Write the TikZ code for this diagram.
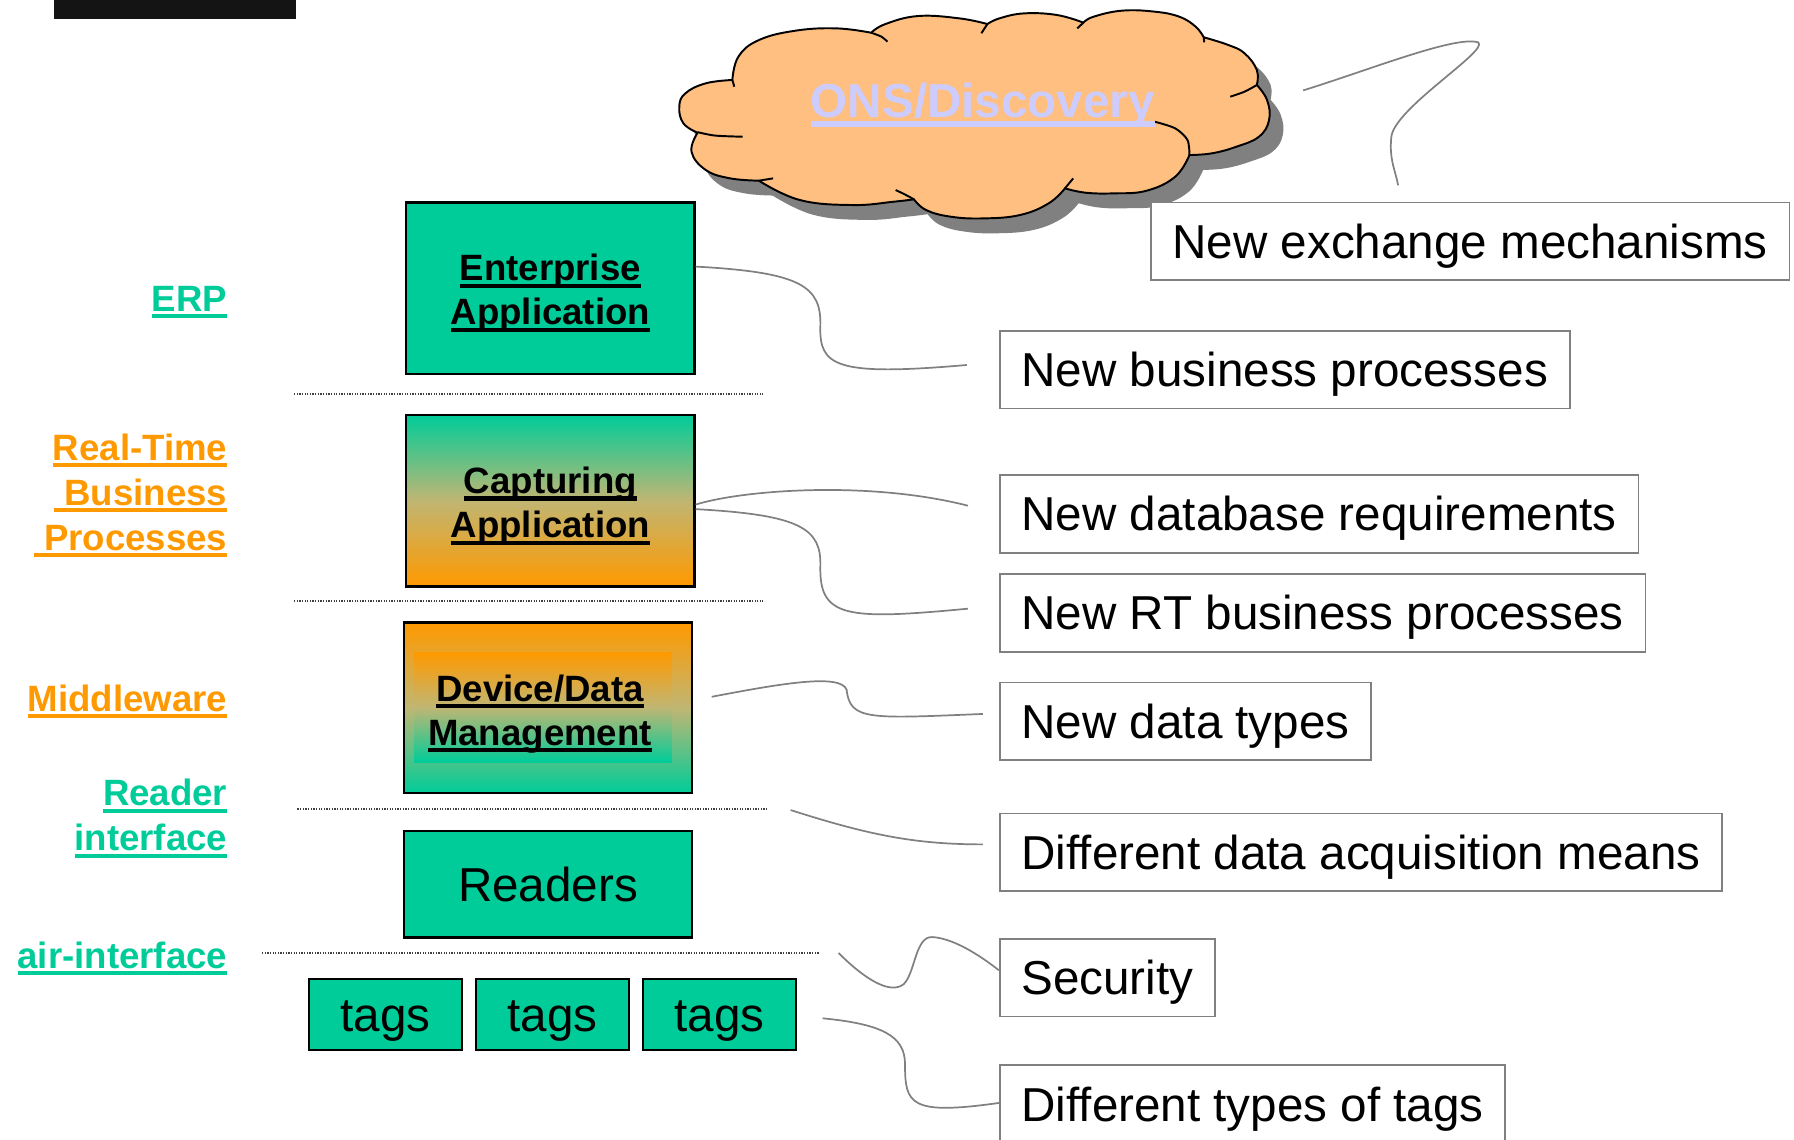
\documentclass[tikz,border=0pt]{standalone}
\usepackage{fontspec}
\setmainfont{Liberation Sans}
\definecolor{mygreen}{HTML}{00CC99}
\definecolor{myorange}{HTML}{FF9900}
\definecolor{mytan}{RGB}{192,182,115}
\definecolor{mylav}{HTML}{CCCCFF}
\definecolor{cloudfill}{HTML}{FFBF80}
\definecolor{linegray}{HTML}{808080}
\definecolor{shadowgray}{HTML}{808080}
\newcommand\myul[1]{\leavevmode\setbox0=\hbox{#1}\rlap{\rule[-0.19em]{\wd0}{0.115em}}\box0}
\def\cloudpath{plot[smooth, tension=0.7] coordinates {(640.1,69.9) (616.9,72.8) (599,81.6) (593.7,93.2) (597.3,107.8) (609.7,116)}
 -- plot[smooth, tension=0.7] coordinates {(609.7,116) (604.4,132.6) (616.9,148.6) (638.3,155.9) (663.3,157.9)}
 -- plot[smooth, tension=0.7] coordinates {(663.3,157.9) (699,174.8) (745.3,179.2) (781,176.3) (798.8,174.2)}
 -- plot[smooth, tension=0.7] coordinates {(798.8,174.2) (809.5,183.6) (831,189.4) (859.5,190.9) (891.6,187.9) (916.6,177.7) (930.8,164.6)}
 -- plot[smooth, tension=0.7] coordinates {(930.8,164.6) (948.7,168.4) (973.6,169) (1002.1,166.7) (1027.2,154.4) (1039.6,135.5)}
 -- plot[smooth, tension=0.7] coordinates {(1039.6,135.5) (1059.3,134) (1080.7,128.2) (1100.3,119.5) (1109.2,104.9) (1107.4,87.4) (1098.5,74.3)}
 -- plot[smooth, tension=0.7] coordinates {(1098.5,74.3) (1098.5,61.2) (1087.8,46.6) (1073.5,39.3) (1052.1,32.6)}
 -- plot[smooth, tension=0.7] coordinates {(1052.1,32.6) (1045,23.3) (1030.7,14.6) (1009.3,10.2) (980.8,9.3) (955.8,14.6) (946.9,19.8)}
 -- plot[smooth, tension=0.7] coordinates {(946.9,19.8) (923.7,13.1) (895.1,11.7) (873.7,16) (863,21)}
 -- plot[smooth, tension=0.7] coordinates {(863,21) (838.1,16) (802.4,14) (773.9,21) (761.4,28.6)}
 -- plot[smooth, tension=0.7] coordinates {(761.4,28.6) (731,24.8) (695.4,26.8) (663.3,35) (645.4,49.5) (640.1,69.9)}
 -- cycle}
\tikzset{
  layerbox/.style={draw=black, line width=1pt, fill=mygreen, inner sep=0pt},
  boxtext/.style={align=center, inner sep=0pt, font=\bfseries\fontsize{16}{19.25}\selectfont},
  plainbox/.style={draw=black, line width=1pt, fill=mygreen, inner sep=0pt,
    font=\fontsize{20.8}{25}\selectfont, text height=14.9pt, text depth=0pt},
  lbl/.style={font=\bfseries\fontsize{16}{19.7}\selectfont, align=right, anchor=east, inner sep=0pt},
  onelbl/.style={lbl, text height=11.46pt, text depth=0pt},
  note/.style={draw=linegray, line width=0.8pt, fill=white,
    font=\fontsize{20.8}{25}\selectfont, inner xsep=9.5pt, inner ysep=0pt,
    text height=14.9pt, text depth=0pt, minimum height=34pt, anchor=west},
  conn/.style={draw=linegray, line width=0.75pt},
  stub/.style={draw=black, line width=0.85pt},
  sepline/.style={draw=black!75, line width=0.8pt, dash pattern=on 0.55pt off 0.6pt},
}
\begin{document}
\begin{tikzpicture}[x=0.5pt, y=-0.5pt]
\useasboundingbox (0,0) rectangle (1568,996);
% top black bar
\fill[black!92] (47,0) rectangle (259,17);
% cloud
\fill[shadowgray, shift={(12,13)}] \cloudpath;
\filldraw[fill=cloudfill, draw=black, line width=0.85pt, line join=round] \cloudpath;
\draw[stub] plot[smooth] coordinates {(609.7,115.5) (625,118.5) (649,119.5)};
\draw[stub] plot[smooth] coordinates {(663.3,157.9) (675.7,155.9)};
\draw[stub] plot[smooth] coordinates {(798.8,174.2) (790,169.5) (782.8,166.1)};
\draw[stub] plot[smooth] coordinates {(930.8,164.6) (938,155.9)};
\draw[stub] plot[smooth] coordinates {(1039.6,135.5) (1037.9,122.4) (1027.2,112.2) (1009.3,106.4)};
\draw[stub] plot[smooth] coordinates {(1098.5,74.3) (1087.8,80.1) (1075.3,84.5)};
\draw[stub] plot[smooth] coordinates {(1052.1,32.6) (1052.5,37)};
\draw[stub] plot[smooth] coordinates {(946.9,19.8) (941.5,24.8)};
\draw[stub] plot[smooth] coordinates {(863,21) (857.7,29.1)};
\draw[stub] plot[smooth] coordinates {(761.4,28.6) (770.3,32) (775.6,36.4)};
\draw[stub] plot[smooth] coordinates {(640.1,69.9) (641.8,75.8)};
\node (ons) [text=mylav, font=\bfseries\fontsize{20.8}{25}\selectfont, inner sep=0pt,
  text height=14.9pt, text depth=0pt] at (859,88) {\myul{ONS/Discovery}};
% layer boxes
\node (ent) [layerbox, minimum width=126pt, minimum height=75pt] at (481,252) {};
\node (enttext) [boxtext] at (481,256.5) {\myul{Enterprise}\\\myul{Application}};
\node (cap) [layerbox, minimum width=126pt, minimum height=75pt, top color=mygreen, bottom color=myorange, middle color=mytan] at (481,437.5) {};
\node (captext) [boxtext] at (481,442.5) {\myul{Capturing}\\\myul{Application}};
\node (devbox) [layerbox, minimum width=126pt, minimum height=74.5pt, top color=myorange, bottom color=mygreen, middle color=mytan] at (479,618.5) {};
\node (devinner) [layerbox, draw=none, top color=myorange, bottom color=mygreen, middle color=mytan,
  minimum width=112.5pt, minimum height=48pt] at (474.5,618) {};
\node (devtext) [boxtext] at (472,624) {\myul{Device/Data}\\\myul{Management}};
\node (readers) [plainbox, minimum width=126pt, minimum height=46.5pt] at (479,773) {Readers};
\node (tag1) [plainbox, minimum width=67pt, minimum height=31pt] at (337,886.5) {tags};
\node (tag2) [plainbox, minimum width=67pt, minimum height=31pt] at (483,886.5) {tags};
\node (tag3) [plainbox, minimum width=67pt, minimum height=31pt] at (629,886.5) {tags};
% separators
\draw[sepline] (257,344) -- (667,344);
\draw[sepline] (257,525) -- (667,525);
\draw[sepline] (260,707) -- (670,707);
\draw[sepline] (229,833) -- (716,833);
% left labels
\node (erp) [onelbl, text=mygreen] at (199,260.7) {\myul{ERP}};
\node (rtbp) [lbl, text=myorange] at (199,433) {\myul{Real-Time}\\\myul{\ Business}\\\myul{\ Processes}};
\node (mw) [onelbl, text=myorange] at (199,610.4) {\myul{Middleware}};
\node (ri) [lbl, text=mygreen] at (199,715.5) {\myul{Reader}\\\myul{interface}};
\node (ai) [onelbl, text=mygreen] at (199,835) {\myul{air-interface}};
% notes
\node (n1) [note] at (1005,211) {New exchange mechanisms};
\node (n2) [note] at (873,323) {New business processes};
\node (n3) [note] at (873,449) {New database requirements};
\node (n4) [note] at (873,535.5) {New RT business processes};
\node (n5) [note] at (873,630.5) {New data types};
\node (n6) [note] at (873,745) {Different data acquisition means};
\node (n7) [note] at (873,854.5) {Security};
\node (n8) [note] at (873,965) {Different types of tags};
% connector end points
\coordinate (c1a) at (1139,79);
\coordinate (c1b) at (1222,162);
\coordinate (c2a) at (ent.east |- 0,233);
\coordinate (c2b) at (845,319);
\coordinate (c3a) at (cap.east |- 0,441);
\coordinate (c3b) at (846,442);
\coordinate (c4a) at (cap.east |- 0,445);
\coordinate (c4b) at (846,532);
\coordinate (c5a) at (622,609);
\coordinate (c5b) at (859,624);
\coordinate (c6a) at (691,708);
\coordinate (c6b) at (859,738);
\coordinate (c7a) at (733,833);
\coordinate (c7b) at (n7.west |- 0,848);
\coordinate (c8a) at (719,890);
\coordinate (c8b) at (n8.west |- 0,964);
% connectors
\draw[conn] (c1a) .. controls (1200,60) and (1272,31) .. (1292,37)
  .. controls (1302,44) and (1218,95) .. (1216,120) .. controls (1214,140) and (1220,150) .. (c1b);
\draw[conn] (c2a) .. controls (700,238) and (718,250) .. (717,285)
  .. controls (716,320) and (730,329) .. (c2b);
\draw[conn] (c3a) .. controls (650,428) and (760,420) .. (c3b);
\draw[conn] (c4a) .. controls (700,450) and (718,462) .. (717,495)
  .. controls (716,540) and (740,542) .. (c4b);
\draw[conn] (c5a) .. controls (680,598) and (735,588) .. (740,603)
  .. controls (743,630) and (760,628) .. (c5b);
\draw[conn] (c6a) .. controls (760,730) and (800,738) .. (c6b);
\draw[conn] (c7a) .. controls (755,855) and (778,870) .. (790,860)
  .. controls (800,850) and (800,818) .. (815,819) .. controls (830,820) and (850,830) .. (c7b);
\draw[conn] (c8a) .. controls (770,895) and (791,905) .. (791,930)
  .. controls (791,965) and (795,975) .. (c8b);
\end{tikzpicture}
\end{document}
